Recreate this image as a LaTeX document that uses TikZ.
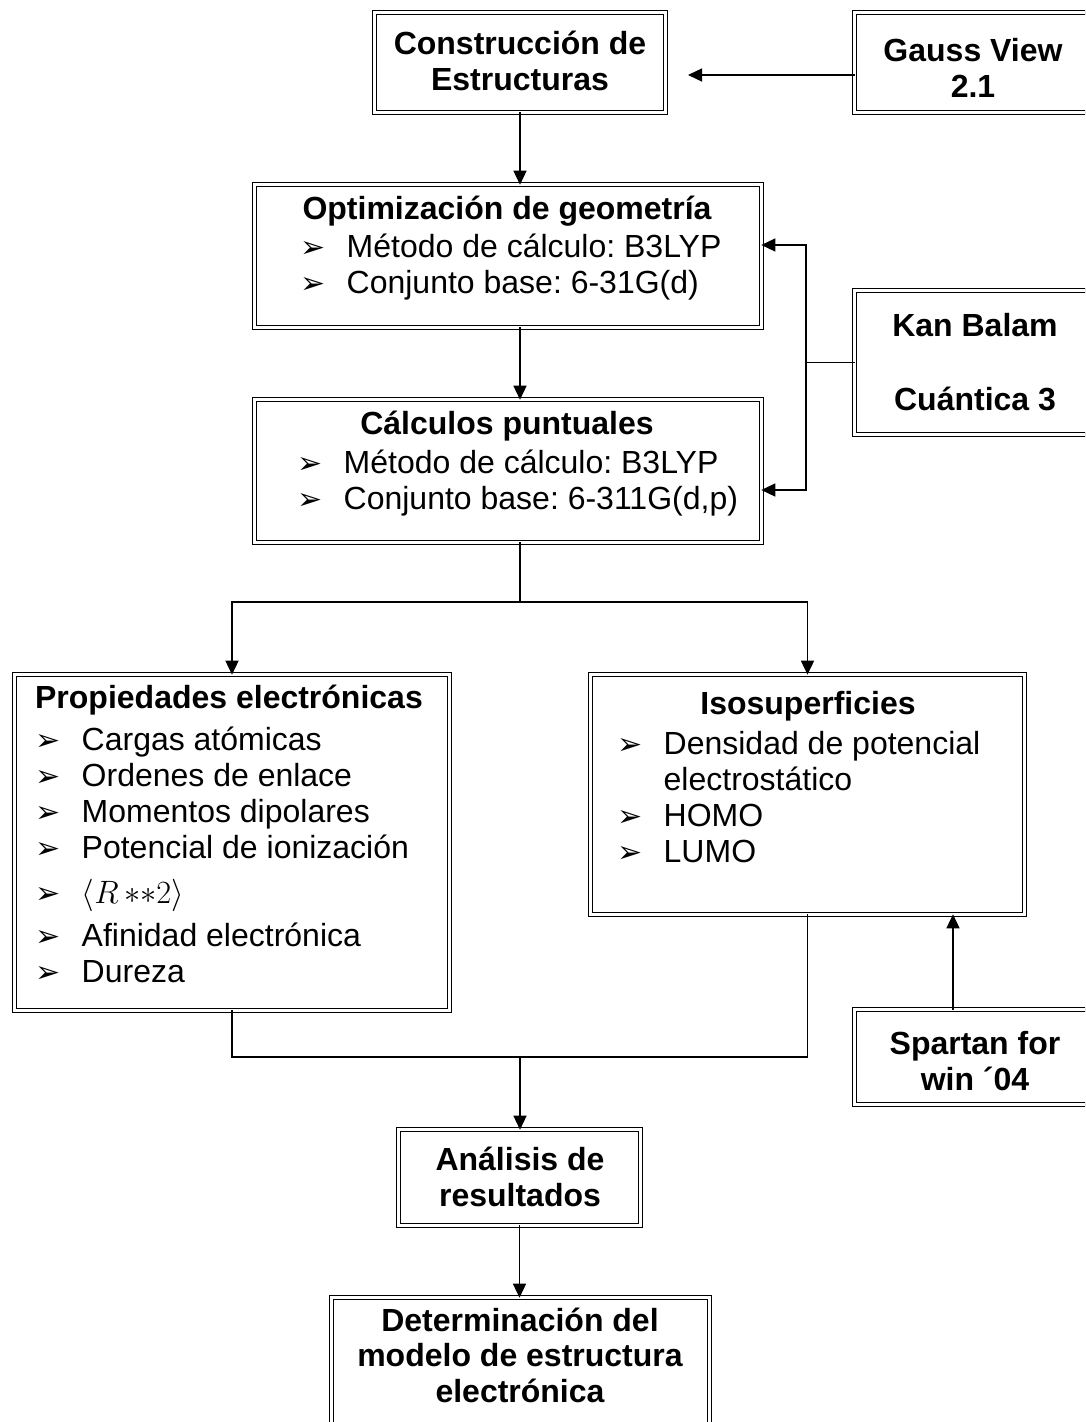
\documentclass[tikz,border=0pt]{standalone}
\usepackage{fontspec}
\setmainfont{Liberation Sans}
\newfontfamily\dingfont{DejaVu Sans}
\usetikzlibrary{arrows.meta}
\frenchspacing

\newcommand{\bul}{{\dingfont\fontsize{30}{30}\selectfont ➢}}
\newcommand{\itm}[1]{\makebox[46pt][l]{\bul}#1}

\tikzset{
  box/.style={draw, double, double distance=2.6pt, line width=1.4pt, inner sep=0pt, outer sep=0pt},
  head/.style={font=\fontsize{32}{35.5}\selectfont\bfseries, align=center, inner sep=0pt},
  lst/.style={font=\fontsize{32}{36}\selectfont, align=left, inner sep=0pt, anchor=base west},
  arr/.style={-{Triangle[length=14pt,width=13pt]}},
}

\begin{document}
\begin{tikzpicture}[x=1pt, y=-1pt, line width=1.4pt]
  \useasboundingbox (0,0) rectangle (1085,1422);
  \clip (0,0) rectangle (1085,1422);

  % boxes
  \node[box, minimum width=290.6pt, minimum height=99.6pt] (cons) at (520,62.5) {};
  \node[box, minimum width=262.6pt, minimum height=99.6pt] (gauss) at (986,62.5) {};
  \node[box, minimum width=506.6pt, minimum height=142.6pt] (opt) at (508,256) {};
  \node[box, minimum width=262.6pt, minimum height=143.6pt] (kan) at (986,362.5) {};
  \node[box, minimum width=506.6pt, minimum height=142.6pt] (calc) at (508,471) {};
  \node[box, minimum width=434.6pt, minimum height=335.6pt] (prop) at (232,842.5) {};
  \node[box, minimum width=433.6pt, minimum height=239.6pt] (iso) at (807.5,794.5) {};
  \node[box, minimum width=262.6pt, minimum height=94.6pt] (spartan) at (986,1057) {};
  \node[box, minimum width=241.6pt, minimum height=95.6pt] (anal) at (519.5,1177.5) {};
  \node[box, minimum width=377.6pt, minimum height=159.6pt] (det) at (520.5,1377.5) {};

  % texts
  \node[head] (consT) at (520,61) {Construcción de\\Estructuras};
  \node[head] (gaussT) at (973,68) {Gauss View\\2.1};
  \node[head] (kanT) at (975,362) {Kan Balam\\[39pt]Cuántica 3};
  \node[head] (spartanT) at (975,1061) {Spartan for\\win ´04};
  \node[head] (analT) at (520,1177) {Análisis de\\resultados};
  \node[head] (detT) at (520,1355) {Determinación del\\modelo de estructura\\electrónica};

  \node[head] (optH) at (507,211) {Optimización de geometría};
  \node[lst] (optL) at (300,293) {\itm{Método de cálculo: B3LYP}\\
    \itm{Conjunto base: 6-31G(d)}};

  \node[head] (calcH) at (507,426) {Cálculos puntuales};
  \node[lst] (calcL) at (297,509) {\itm{Método de cálculo: B3LYP}\\
    \itm{Conjunto base: 6-311G(d,p)}};

  \node[head] (propH) at (229,700) {Propiedades electrónicas};
  \node[lst] (propL) at (35,982) {\itm{Cargas atómicas}\\
    \itm{Ordenes de enlace}\\
    \itm{Momentos dipolares}\\
    \itm{Potencial de ionización}\\[9pt]
    \itm{\scalebox{1.3}{$\bigl\langle R\,{*}{*}2\bigr\rangle$}}\\[7pt]
    \itm{Afinidad electrónica}\\
    \itm{Dureza}};

  \node[head] (isoH) at (808,706) {Isosuperficies};
  \node[lst] (isoL) at (617,862) {\itm{Densidad de potencial}\\
    \makebox[46pt][l]{}electrostático\\
    \itm{HOMO}\\
    \itm{LUMO}};

  % joints
  \coordinate (gaussTip) at (688,75);
  \coordinate (kanJoin) at (806,362.5);
  \coordinate (kanTop) at (806,245);
  \coordinate (kanBot) at (806,490);
  \coordinate (split) at (520,602);
  \coordinate (merge) at (520,1057);
  \coordinate (spFoot) at (953,1007);

  % connectors
  \begin{scope}[arr]
    \draw (gauss.west |- gaussTip) -- (gaussTip);
    \draw (cons.south) -- (cons.south |- opt.north);
    \draw (cons.south |- opt.south) -- (cons.south |- calc.north);
    \draw (kanJoin) |- (opt.east |- kanTop);
    \draw (kanJoin) |- (calc.east |- kanBot);
    \draw (split) -| (prop.north);
    \draw (split) -| (iso.north);
    \draw (merge) -- (merge |- anal.north);
    \draw (spartan.north -| spFoot) -- (spFoot |- iso.south);
    \draw (anal.south) -- (anal.south |- det.north);
  \end{scope}
  \draw (kan.west) -- (kanJoin);
  \draw (cons.south |- calc.south) -- (split);
  \draw (prop.south) |- (merge) -| (iso.south);
\end{tikzpicture}
\end{document}
